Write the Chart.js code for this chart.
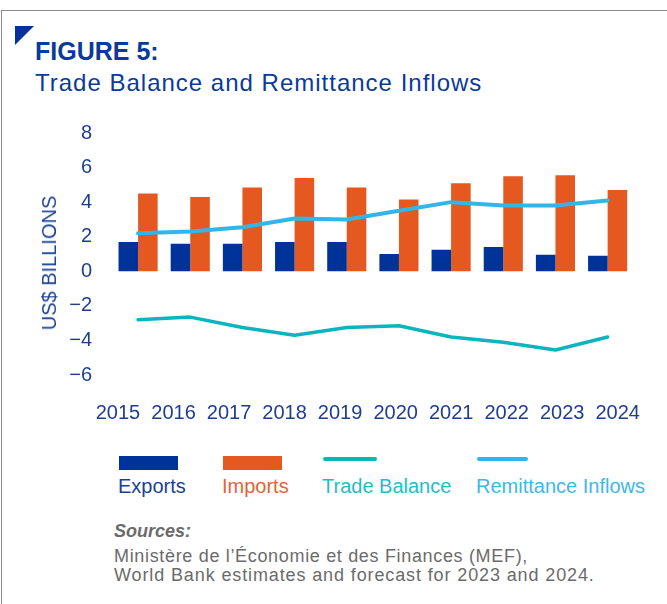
<!DOCTYPE html>
<html lang="en">
<head>
<meta charset="UTF-8" />
<title>Figure 5: Trade Balance and Remittance Inflows</title>
<script src="https://cdn.jsdelivr.net/npm/chart.js"></script>
<style>
  body { margin: 0; width: 667px; height: 604px; position: relative; overflow: hidden; background: #fff;
         font-family: "Liberation Sans", Arial, sans-serif; }
  .frame { position: absolute; left: 1px; top: 10px; width: 700px; height: 700px;
           border-top: 1px solid #8c8c8c; border-left: 1px solid #8c8c8c; }
  .corner { position: absolute; left: 15px; top: 26px; width: 19px; height: 19px; background: #003399;
            clip-path: polygon(0 0, 100% 0, 0 100%); }
  h1, h2 { position: absolute; margin: 0; left: 35px; color: #0a3a9b; white-space: nowrap; }
  h1 { top: 39px; font-size: 25px; line-height: 25px; font-weight: bold; }
  h2 { top: 71px; font-size: 24px; line-height: 24px; font-weight: normal; letter-spacing: 1px; }
  #chart { position: absolute; left: 0; top: 0; }
  .ytitle { position: absolute; left: 49px; top: 263px; font-size: 20px; line-height: 20px; color: #1f4596;
            white-space: nowrap; transform: translate(-50%, -50%) rotate(-90deg); }
  .item { position: absolute; top: 0; }
  .swatch { position: absolute; top: 456px; }
  .label { position: absolute; top: 476px; font-size: 20px; line-height: 20px; white-space: nowrap; }
  .src { position: absolute; left: 114px; font-size: 18px; line-height: 18px; color: #6b6b6b; white-space: nowrap; }
</style>
</head>
<body>
<div class="frame"></div>
<div class="corner"></div>
<h1>FIGURE 5:</h1>
<h2>Trade Balance and Remittance Inflows</h2>
<canvas id="chart" width="667" height="440"></canvas>
<div class="ytitle">US$ BILLIONS</div>
<div id="legend"></div>
<div class="src" style="top:522px; font-weight:bold; font-style:italic;">Sources:</div>
<div class="src" style="top:547px; letter-spacing:0.67px;">Ministère de l’Économie et des Finances (MEF),</div>
<div class="src" style="top:566px; letter-spacing:0.88px;">World Bank estimates and forecast for 2023 and 2024.</div>

<script>
const years = ['2015', '2016', '2017', '2018', '2019', '2020', '2021', '2022', '2023', '2024'];
const exportsBn = [1.7, 1.6, 1.6, 1.7, 1.7, 1.0, 1.25, 1.4, 0.95, 0.9];
const importsBn = [4.5, 4.3, 4.85, 5.4, 4.85, 4.15, 5.1, 5.5, 5.55, 4.7];
const tradeBalanceBn = [-2.8, -2.65, -3.25, -3.7, -3.25, -3.15, -3.8, -4.1, -4.55, -3.8];
const remittancesBn = [2.2, 2.3, 2.55, 3.05, 3.0, 3.5, 4.0, 3.8, 3.8, 4.1];
const yTicks = [-6, -4, -2, 0, 2, 4, 6, 8];

const tickColor = '#1e3e92';
const tickFont = { family: '"Liberation Sans", Arial, sans-serif', size: 20 };

const chart = new Chart(document.getElementById('chart'), {
  type: 'bar',
  data: {
    labels: years,
    datasets: [
      { label: 'Exports', data: exportsBn, backgroundColor: '#003399', textColor: '#1a3f99', order: 1 },
      { label: 'Imports', data: importsBn, backgroundColor: '#e5581f', textColor: '#e8603a', order: 1 },
      { type: 'line', label: 'Trade Balance', data: tradeBalanceBn, borderColor: '#0cb5be', textColor: '#1cbfc6',
        borderWidth: 3.5, pointRadius: 0, tension: 0, borderCapStyle: 'round', borderJoinStyle: 'round', order: 0 },
      { type: 'line', label: 'Remittance Inflows', data: remittancesBn, borderColor: '#31b6e7', textColor: '#40b8e8',
        borderWidth: 4, pointRadius: 0, tension: 0, borderCapStyle: 'round', borderJoinStyle: 'round', order: 0 }
    ]
  },
  options: {
    responsive: false,
    animation: false,
    categoryPercentage: 0.75,
    barPercentage: 1.0,
    layout: { padding: { top: 133, right: 33, left: 0, bottom: 0 } },
    plugins: { legend: { display: false }, tooltip: { enabled: false } },
    scales: {
      x: { type: 'category', display: false, offset: true },
      // year labels sit on their own axis, spaced a little wider than the bars
      years: {
        type: 'linear', position: 'bottom', axis: 'x', bounds: 'data', offset: false,
        min: -0.108, max: 9.288,
        grid: { display: false, drawTicks: false, offset: false }, border: { display: false },
        afterBuildTicks: s => { s.ticks = years.map((_, i) => ({ value: i })); },
        afterFit: s => { s.height = 65; },
        ticks: { autoSkip: false, maxRotation: 0, padding: 26, color: tickColor, font: tickFont,
                 callback: (v, i) => years[i] }
      },
      y: {
        min: -6, max: 8,
        grid: { display: false, drawTicks: false }, border: { display: false },
        afterBuildTicks: s => { s.ticks = yTicks.map(v => ({ value: v })); },
        afterFit: s => { s.width = 112; },
        ticks: { padding: 20, color: tickColor, font: tickFont,
                 callback: v => v < 0 ? '\u2212' + Math.abs(v) : String(v) }
      }
    }
  }
});

// legend: swatch on top, coloured name underneath
const legendLeft = [118, 222, 322, 476];
const legend = document.getElementById('legend');
chart.data.datasets.forEach((ds, i) => {
  const item = document.createElement('div');
  item.className = 'item';
  item.style.left = legendLeft[i] + 'px';
  const sw = document.createElement('div');
  sw.className = 'swatch';
  if (ds.type === 'line') {
    sw.style.cssText = `left:1px;top:457px;width:${i === 2 ? 54 : 51}px;height:4px;border-radius:2px;background:${ds.borderColor}`;
  } else {
    sw.style.cssText = `left:1px;width:59px;height:14px;background:${ds.backgroundColor}`;
  }
  const lab = document.createElement('div');
  lab.className = 'label';
  lab.style.color = ds.textColor;
  lab.textContent = ds.label;
  item.appendChild(sw);
  item.appendChild(lab);
  legend.appendChild(item);
});
</script>
</body>
</html>
